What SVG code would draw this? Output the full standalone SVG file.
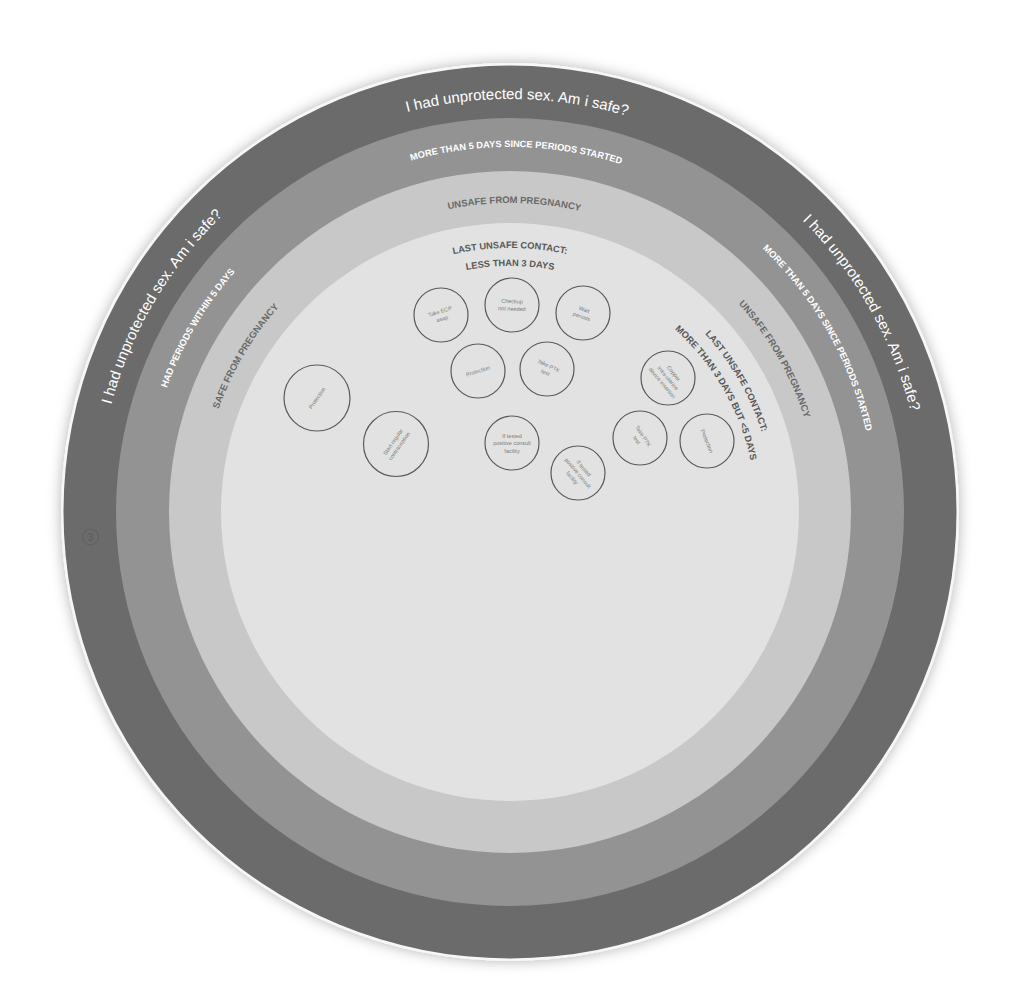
<svg xmlns="http://www.w3.org/2000/svg" xmlns:xlink="http://www.w3.org/1999/xlink" width="1024" height="1001" viewBox="0 0 1024 1001">
<style>
.lbl{font-family:"Liberation Sans",Arial,sans-serif;}
.t-out{font-size:15px;fill:#ffffff;}
.t-r2{font-size:9.3px;font-weight:bold;fill:#ffffff;}
.t-r3{font-size:9.5px;font-weight:bold;fill:#686868;}
.t-in{font-size:9.3px;font-weight:bold;fill:#585858;}
.node circle{fill:none;stroke:#5a5a5a;stroke-width:1.2;}
.node text{font-family:"Liberation Sans",Arial,sans-serif;font-size:5.5px;fill:#7a7a7a;text-anchor:middle;}
</style>
<defs>
<filter id="sh" x="-10%" y="-10%" width="120%" height="120%">
<feDropShadow dx="0" dy="0" stdDeviation="7" flood-color="#000" flood-opacity="0.3"/>
</filter>
<path id="a413" d="M97,512 A413,413 0 0 1 923,512"/>
<path id="a365" d="M145,512 A365,365 0 0 1 875,512"/>
<path id="a309" d="M201,512 A309,309 0 0 1 819,512"/>
<path id="a264" d="M246,512 A264,264 0 0 1 774,512"/>
<path id="a246" d="M264,512 A246,246 0 0 1 756,512"/>
</defs>
<rect width="1024" height="1001" fill="#ffffff"/>
<g id="rings">
<circle cx="510" cy="512" r="449" fill="#f7f7f7" filter="url(#sh)"/>
<circle cx="510" cy="512" r="446.5" fill="#6b6b6b"/>
<circle cx="510" cy="512" r="394" fill="#939393"/>
<circle cx="510" cy="512" r="341" fill="#c8c8c8"/>
<circle cx="510" cy="512" r="289" fill="#e2e2e2"/>
</g>
<g id="ring-labels" class="lbl">
<g transform="rotate(1 510 512)"><text class="t-out" text-anchor="middle"><textPath xlink:href="#a413" href="#a413" startOffset="50%">I had unprotected sex. Am i safe?</textPath></text></g>
<g transform="rotate(-59.5 510 512)"><text class="t-out" text-anchor="middle"><textPath xlink:href="#a413" href="#a413" startOffset="50%">I had unprotected sex. Am i safe?</textPath></text></g>
<g transform="rotate(60.5 510 512)"><text class="t-out" text-anchor="middle"><textPath xlink:href="#a413" href="#a413" startOffset="50%">I had unprotected sex. Am i safe?</textPath></text></g>
<g transform="rotate(1 510 512)"><text class="t-r2" text-anchor="middle"><textPath xlink:href="#a365" href="#a365" startOffset="50%">MORE THAN 5 DAYS SINCE PERIODS STARTED</textPath></text></g>
<g transform="rotate(-59.5 510 512)"><text class="t-r2" text-anchor="middle"><textPath xlink:href="#a365" href="#a365" startOffset="50%">HAD PERIODS WITHIN 5 DAYS</textPath></text></g>
<g transform="rotate(60.5 510 512)"><text class="t-r2" text-anchor="middle"><textPath xlink:href="#a365" href="#a365" startOffset="50%">MORE THAN 5 DAYS SINCE PERIODS STARTED</textPath></text></g>
<g transform="rotate(0.8 510 512)"><text class="t-r3" text-anchor="middle"><textPath xlink:href="#a309" href="#a309" startOffset="50%">UNSAFE FROM PREGNANCY</textPath></text></g>
<g transform="rotate(-59.5 510 512)"><text class="t-r3" text-anchor="middle"><textPath xlink:href="#a309" href="#a309" startOffset="50%">SAFE FROM PREGNANCY</textPath></text></g>
<g transform="rotate(60 510 512)"><text class="t-r3" text-anchor="middle"><textPath xlink:href="#a309" href="#a309" startOffset="50%">UNSAFE FROM PREGNANCY</textPath></text></g>
<text class="t-in" text-anchor="middle"><textPath xlink:href="#a264" href="#a264" startOffset="50%">LAST UNSAFE CONTACT:</textPath></text>
<text class="t-in" text-anchor="middle"><textPath xlink:href="#a246" href="#a246" startOffset="50%">LESS THAN 3 DAYS</textPath></text>
<g transform="rotate(60 510 512)"><text class="t-in" text-anchor="middle"><textPath xlink:href="#a264" href="#a264" startOffset="50%">LAST UNSAFE CONTACT:</textPath></text>
<text class="t-in" text-anchor="middle"><textPath xlink:href="#a246" href="#a246" startOffset="50%">MORE THAN 3 DAYS BUT &lt;5 DAYS</textPath></text></g>
</g>
<g id="connectors"></g>
<g id="nodes">
<g id="n-take-ecp" class="node" transform="translate(441,315)"><circle r="27"/><text transform="rotate(-17)"><tspan x="0" y="-1.75">Take ECP</tspan><tspan x="0" y="5.75">asap</tspan></text></g>
<g id="n-checkup" class="node" transform="translate(512,305)"><circle r="27"/><text transform="rotate(2)"><tspan x="0" y="-1.75">Checkup</tspan><tspan x="0" y="5.75">not needed</tspan></text></g>
<g id="n-wait" class="node" transform="translate(583,313)"><circle r="27"/><text transform="rotate(20)"><tspan x="0" y="-1.75">Wait</tspan><tspan x="0" y="5.75">periods</tspan></text></g>
<g id="n-protection-1" class="node" transform="translate(478,371)"><circle r="27"/><text transform="rotate(-18)"><tspan x="0" y="2">Protection</tspan></text></g>
<g id="n-take-ptk-1" class="node" transform="translate(547,369)"><circle r="27"/><text transform="rotate(25)"><tspan x="0" y="-1.75">Take PTK</tspan><tspan x="0" y="5.75">test</tspan></text></g>
<g id="n-protection-left" class="node" transform="translate(317,398)"><circle r="33"/><text transform="rotate(-55)"><tspan x="0" y="2">Protection</tspan></text></g>
<g id="n-start-regular" class="node" transform="translate(396,444)"><circle r="32.5"/><text transform="rotate(-55)"><tspan x="0" y="-1.75">Start regular</tspan><tspan x="0" y="5.75">contraception</tspan></text></g>
<g id="n-consult-1" class="node" transform="translate(512,443)"><circle r="27"/><text><tspan x="0" y="-5.5">If tested</tspan><tspan x="0" y="2">positive consult</tspan><tspan x="0" y="9.5">facility</tspan></text></g>
<g id="n-consult-2" class="node" transform="translate(578,473)"><circle r="27"/><text transform="rotate(50)"><tspan x="0" y="-5.5">If tested</tspan><tspan x="0" y="2">positive consult</tspan><tspan x="0" y="9.5">facility</tspan></text></g>
<g id="n-copper" class="node" transform="translate(668,378)"><circle r="27"/><text transform="rotate(50)"><tspan x="0" y="-5.5">Copper</tspan><tspan x="0" y="2">Intra-uterine</tspan><tspan x="0" y="9.5">device insertion</tspan></text></g>
<g id="n-take-ptk-2" class="node" transform="translate(640,438)"><circle r="27"/><text transform="rotate(57)"><tspan x="0" y="-1.75">Take PTK</tspan><tspan x="0" y="5.75">test</tspan></text></g>
<g id="n-protection-2" class="node" transform="translate(707,441)"><circle r="27"/><text transform="rotate(68)"><tspan x="0" y="2">Protection</tspan></text></g>
</g>
<g id="badge-3">
<circle cx="90.5" cy="537" r="8" fill="none" stroke="#5a5a5a" stroke-width="0.8"/>
<text x="90.5" y="540.5" text-anchor="middle" font-family="Liberation Sans, Arial, sans-serif" font-size="10" fill="#5a5a5a">3</text>
</g>
</svg>
